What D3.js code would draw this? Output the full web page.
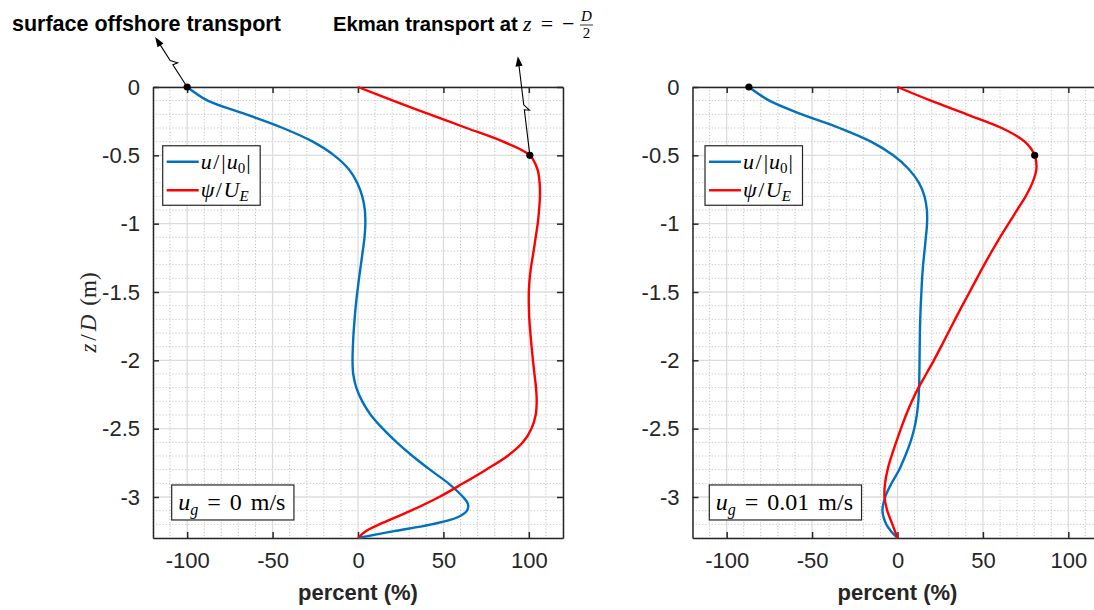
<!DOCTYPE html>
<html><head><meta charset="utf-8">
<script src="https://cdn.jsdelivr.net/npm/d3@7"></script>
<style>body{margin:0;background:#fff;} svg{display:block}</style>
</head><body>
<svg id="chart" width="1094" height="610"></svg>
<script>
// ---------- data ----------
const xTicks = [-100, -50, 0, 50, 100];
const xTickLabels = ["-100", "-50", "0", "50", "100"];
const yTicks = [0, -0.5, -1, -1.5, -2, -2.5, -3];
const yTickLabels = ["0", "-0.5", "-1", "-1.5", "-2", "-2.5", "-3"];

// left panel (u_g = 0)
const zUL  = [0,-0.1,-0.2,-0.3,-0.4,-0.5,-0.6,-0.7,-0.8,-0.9,-1.0,-1.1,-1.2,-1.3,-1.4,-1.5,-1.6,-1.7,-1.8,-1.9,-2.0,-2.1,-2.2,-2.3,-2.4,-2.5,-2.6,-2.7,-2.8,-2.9,-3.0,-3.05,-3.1,-3.15,-3.2,-3.25,-3.3];
const uL   = [-100,-88,-65.5,-44,-26.5,-14,-5.5,-0.5,2.5,4,4.3,3.8,2.8,1.7,0.6,-0.4,-1.3,-2,-2.6,-3,-3.2,-2.8,-1,2.5,7.5,14.5,22.7,31.9,42.1,52.9,61.5,64.3,63.8,58,43,21,0];
const zPL  = [0,-0.1,-0.2,-0.3,-0.4,-0.5,-0.6,-0.7,-0.8,-0.9,-1.0,-1.1,-1.2,-1.3,-1.4,-1.5,-1.6,-1.7,-1.8,-1.9,-2.0,-2.1,-2.2,-2.3,-2.4,-2.5,-2.6,-2.7,-2.8,-2.9,-3.0,-3.1,-3.2,-3.25,-3.3];
const psiL = [0,20.5,42,63.5,85,100.6,105,106.3,106.5,106,105.2,104,102.8,101.5,100.5,100,100,100.3,100.9,101.6,102.4,103.3,104.2,104.6,104,101.5,96.5,87.5,75,61.5,47.5,31,12.5,4.5,0];

// right panel (u_g = 0.01)
const zUR  = [0,-0.1,-0.2,-0.3,-0.4,-0.5,-0.6,-0.7,-0.8,-0.9,-1.0,-1.1,-1.2,-1.3,-1.4,-1.5,-1.6,-1.7,-1.8,-1.9,-2.0,-2.1,-2.2,-2.3,-2.4,-2.5,-2.6,-2.7,-2.8,-2.9,-3.0,-3.1,-3.2,-3.25,-3.3];
const uR   = [-87,-75,-56,-34,-15.5,-2.5,6.5,12.5,15.8,17.2,17.3,16.6,15.8,15,14.4,14,13.6,13.3,13.1,13,12.9,12.8,12.6,12.2,11.3,9.8,7.5,4.5,1,-3.5,-7.2,-8.8,-6.6,-3.8,0];
const zPR  = [0,-0.1,-0.2,-0.3,-0.4,-0.5,-0.6,-0.7,-0.8,-0.9,-1.0,-1.1,-1.2,-1.3,-1.4,-1.5,-1.6,-1.7,-1.8,-1.9,-2.0,-2.1,-2.2,-2.3,-2.4,-2.5,-2.6,-2.7,-2.8,-2.9,-3.0,-3.1,-3.2,-3.3];
const psiR = [0,19.5,40.5,61,74.5,80.3,81.3,79,75,70,65,60,55.3,50.8,46.5,42.2,37.9,33.7,29.6,25.5,21.3,16.8,12.3,8.4,5,2,-0.8,-3.5,-5.8,-7.3,-7.6,-6,-3,0];

// highlighted points [value, z]
const dotsL = [[-100, 0], [100.6, -0.5]];
const dotsR = [[-87, 0], [80.3, -0.5]];
const ugValues = ["0", "0.01"];

// ---------- layout ----------
const svg = d3.select("#chart");
const W = 410, H = 451, TOP = 87;
const panels = [
  {left: 153, zu: zUL, u: uL, zp: zPL, p: psiL, dots: dotsL, ug: ugValues[0], legX: 9.7, boxX: 18.7, ylabel: true},
  {left: 692.5, zu: zUR, u: uR, zp: zPR, p: psiR, dots: dotsR, ug: ugValues[1], legX: 12.5, boxX: 16.8, ylabel: false}
];
const AX = "#262626";
const sans = "'Liberation Sans', Arial, Helvetica, sans-serif";
const serif = "'Liberation Serif', 'Times New Roman', serif";

const y = d3.scaleLinear().domain([-3.3, 0]).range([H, 0]);
const dotPx = [];

panels.forEach((P, pi) => {
  const x = d3.scaleLinear().domain([-120, 120]).range([0, W]);
  const g = svg.append("g").attr("transform", `translate(${P.left},${TOP})`);

  // minor grid
  const xMinor = d3.range(-120, 121, 10).filter(v => v % 50 !== 0);
  const yMinor = d3.range(0, 34).map(i => -i / 10).filter(v => Math.abs(v * 2 - Math.round(v * 2)) > 1e-6);
  g.append("g").selectAll("line").data(xMinor).join("line")
    .attr("x1", d => x(d)).attr("x2", d => x(d)).attr("y1", 0).attr("y2", H)
    .attr("stroke", "#c2c2c2").attr("stroke-width", 1).attr("stroke-dasharray", "1.2,2");
  g.append("g").selectAll("line").data(yMinor).join("line")
    .attr("y1", d => y(d)).attr("y2", d => y(d)).attr("x1", 0).attr("x2", W)
    .attr("stroke", "#c2c2c2").attr("stroke-width", 1).attr("stroke-dasharray", "1.2,2");
  // major grid
  g.append("g").selectAll("line").data(xTicks).join("line")
    .attr("x1", d => x(d)).attr("x2", d => x(d)).attr("y1", 0).attr("y2", H)
    .attr("stroke", "#dcdcdc").attr("stroke-width", 1.3);
  g.append("g").selectAll("line").data(yTicks).join("line")
    .attr("y1", d => y(d)).attr("y2", d => y(d)).attr("x1", 0).attr("x2", W)
    .attr("stroke", "#dcdcdc").attr("stroke-width", 1.3);

  // axes (box with inward ticks)
  const styleAxis = (sel) => {
    sel.select(".domain").attr("stroke", AX).attr("stroke-width", 1.5);
    sel.selectAll(".tick line").attr("stroke", AX).attr("stroke-width", 1.5);
    sel.selectAll("text").attr("fill", AX).attr("font-family", sans).attr("font-size", 22);
  };
  const xb = g.append("g").attr("transform", `translate(0,${H})`)
    .call(d3.axisBottom(x).tickValues(xTicks).tickFormat((d, i) => xTickLabels[i]).tickSizeInner(-6).tickSizeOuter(0).tickPadding(14));
  styleAxis(xb);
  const xt = g.append("g")
    .call(d3.axisTop(x).tickValues(xTicks).tickFormat("").tickSizeInner(-6).tickSizeOuter(0));
  styleAxis(xt);
  const yl = g.append("g")
    .call(d3.axisLeft(y).tickValues(yTicks).tickFormat((d, i) => yTickLabels[i]).tickSizeInner(-6).tickSizeOuter(0).tickPadding(13));
  styleAxis(yl);
  const yr = g.append("g").attr("transform", `translate(${W},0)`)
    .call(d3.axisRight(y).tickValues(yTicks).tickFormat("").tickSizeInner(-6).tickSizeOuter(0));
  styleAxis(yr);

  // curves
  const line = d3.line().x(d => x(d[0])).y(d => y(d[1])).curve(d3.curveCatmullRom.alpha(0.5));
  g.append("path").datum(P.u.map((v, i) => [v, P.zu[i]])).attr("d", line)
    .attr("fill", "none").attr("stroke", "#0072BD").attr("stroke-width", 2.4);
  g.append("path").datum(P.p.map((v, i) => [v, P.zp[i]])).attr("d", line)
    .attr("fill", "none").attr("stroke", "#FF0000").attr("stroke-width", 2.4);

  // dots
  g.selectAll("circle.dot").data(P.dots).join("circle").attr("class", "dot")
    .attr("cx", d => x(d[0])).attr("cy", d => y(d[1])).attr("r", 3.6).attr("fill", "#000");
  dotPx.push(P.dots.map(d => [P.left + x(d[0]), TOP + y(d[1])]));

  // x label
  g.append("text").attr("x", x(0)).attr("y", H + 62).attr("text-anchor", "middle")
    .attr("font-family", sans).attr("font-weight", "bold").attr("font-size", 22).attr("fill", AX)
    .text("percent (%)");

  // legend
  const lg = g.append("g").attr("transform", `translate(${P.legX},${y(-0.43)})`);
  lg.append("rect").attr("width", 97.5).attr("height", 59.5).attr("fill", "#fff")
    .attr("stroke", AX).attr("stroke-width", 1.2);
  [["#0072BD", 16], ["#FF0000", 44.5]].forEach(([c, yy], k) => {
    lg.append("line").attr("x1", 4).attr("x2", 36).attr("y1", yy).attr("y2", yy)
      .attr("stroke", c).attr("stroke-width", 2.4);
    const t = lg.append("text").attr("x", 38).attr("y", yy + 7).attr("font-family", serif)
      .attr("font-size", 22).attr("fill", "#000");
    if (k === 0) {
      t.append("tspan").attr("font-style", "italic").text("u");
      t.append("tspan").attr("dx", 1.5).text("/");
      t.append("tspan").attr("dx", 2).text("|");
      t.append("tspan").attr("dx", 1).attr("font-style", "italic").text("u");
      t.append("tspan").attr("font-size", 15).attr("dy", 4).text("0");
      t.append("tspan").attr("dy", -4).attr("dx", 1).text("|");
    } else {
      t.append("tspan").attr("font-style", "italic").text("ψ");
      t.append("tspan").attr("dx", 1.5).text("/");
      t.append("tspan").attr("dx", 1.5).attr("font-style", "italic").text("U");
      t.append("tspan").attr("font-size", 15).attr("dy", 4).attr("font-style", "italic").text("E");
    }
  });

  // u_g box
  const bx = g.append("g").attr("transform", `translate(${P.boxX},${y(-2.912)})`);
  const bt = bx.append("text").attr("x", 6.5).attr("y", 25).attr("font-family", serif)
    .attr("font-size", 24).attr("fill", "#000");
  bt.append("tspan").attr("font-style", "italic").text("u");
  bt.append("tspan").attr("font-style", "italic").attr("font-size", 16).attr("dy", 5).text("g");
  bt.append("tspan").attr("dy", -5).attr("dx", 9).text("=");
  bt.append("tspan").attr("dx", 9).text(P.ug);
  bt.append("tspan").attr("dx", 9).text("m/s");
  const bw = bt.node().getBBox().width;
  bx.insert("rect", "text").attr("width", bw + 15).attr("height", 35).attr("fill", "#fff")
    .attr("stroke", AX).attr("stroke-width", 1.2);

  // y label
  if (P.ylabel) {
    const t = g.append("text").attr("transform", `translate(-57,${H / 2}) rotate(-90)`)
      .attr("text-anchor", "middle").attr("font-family", serif).attr("font-size", 23).attr("fill", AX);
    t.append("tspan").attr("font-style", "italic").text("z");
    t.append("tspan").attr("dx", 3).text("/");
    t.append("tspan").attr("dx", 3).attr("font-style", "italic").text("D");
    t.append("tspan").attr("dx", 9).text("(m)");
  }
});

// ---------- annotations ----------
function zigArrow(T, Hd, side) {
  const dx = Hd[0] - T[0], dy = Hd[1] - T[1], L = Math.hypot(dx, dy);
  const d = [dx / L, dy / L], n = [-d[1] * side, d[0] * side];
  const f = 0.48, M = [T[0] + dx * f, T[1] + dy * f];
  const P = (a, b) => [M[0] + d[0] * a + n[0] * b, M[1] + d[1] * a + n[1] * b];
  const pts = [T, P(-2, 0), P(-3, 5), P(3, 0), [Hd[0] - d[0] * 7, Hd[1] - d[1] * 7]];
  svg.append("path").attr("d", d3.line()(pts)).attr("fill", "none")
    .attr("stroke", "#000").attr("stroke-width", 1.1);
  const base = [Hd[0] - d[0] * 10, Hd[1] - d[1] * 10];
  const hw = 3.6;
  svg.append("path").attr("d", d3.line()([Hd, [base[0] + d[1] * hw, base[1] - d[0] * hw],
      [base[0] - d[1] * hw, base[1] + d[0] * hw]]) + "Z").attr("fill", "#000");
}
zigArrow(dotPx[0][0], [dotPx[0][0][0] - 32, dotPx[0][0][1] - 50], 1);
zigArrow(dotPx[0][1], [dotPx[0][1][0] - 12, dotPx[0][1][1] - 99], 1);

svg.append("text").attr("x", 12).attr("y", 31).attr("font-family", sans).attr("font-weight", "bold")
  .attr("font-size", 21.5).attr("fill", "#000").text("surface offshore transport");
const ek = svg.append("text").attr("x", 333).attr("y", 31).attr("font-family", sans).attr("font-weight", "bold")
  .attr("font-size", 20.3).attr("fill", "#000").text("Ekman transport at");
const ekEnd = 333 + ek.node().getBBox().width + 5;
const mt = svg.append("text").attr("x", ekEnd).attr("y", 31).attr("font-family", serif)
  .attr("font-size", 22).attr("fill", "#000");
mt.append("tspan").attr("font-style", "italic").text("z");
mt.append("tspan").attr("dx", 9).text("=");
mt.append("tspan").attr("dx", 9).text("−");
const mb = mt.node().getBBox();
const fx = mb.x + mb.width + 12;
svg.append("text").attr("x", fx).attr("y", 21).attr("text-anchor", "middle").attr("font-family", serif)
  .attr("font-size", 15).attr("font-style", "italic").text("D");
svg.append("line").attr("x1", fx - 6.5).attr("x2", fx + 6.5).attr("y1", 25).attr("y2", 25)
  .attr("stroke", "#000").attr("stroke-width", 0.8);
svg.append("text").attr("x", fx).attr("y", 37.5).attr("text-anchor", "middle").attr("font-family", serif)
  .attr("font-size", 15).text("2");
</script>
</body></html>
